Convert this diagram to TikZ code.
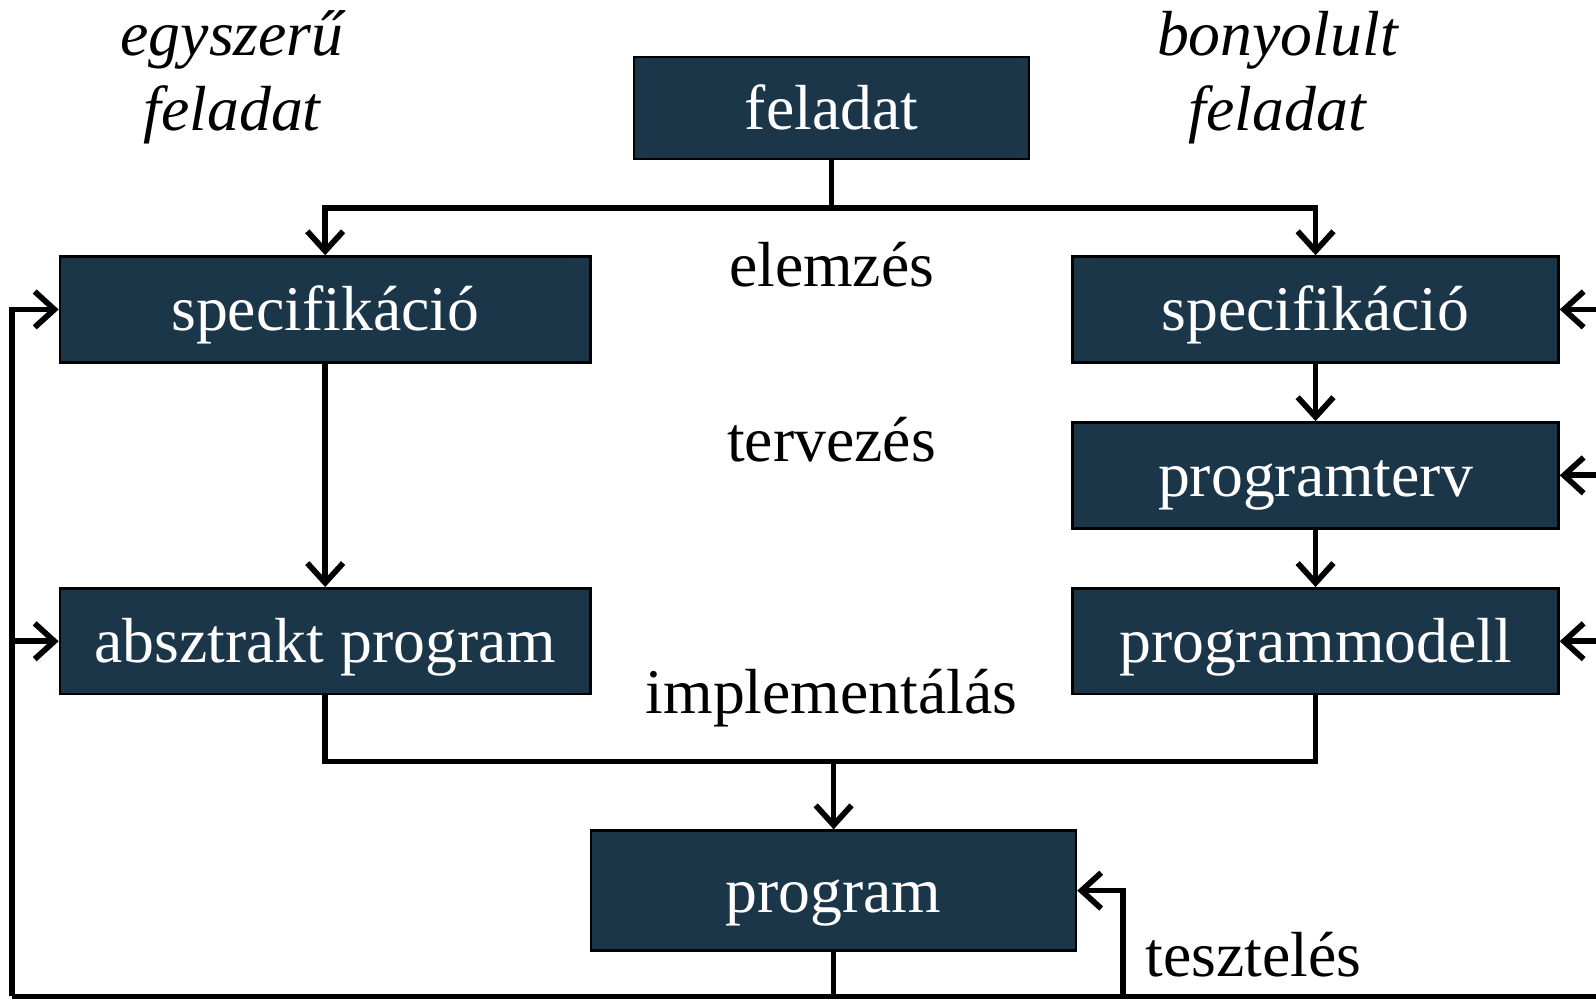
\documentclass[tikz,border=0pt]{standalone}
\usepackage{fontspec}
\setmainfont{Liberation Serif}
\usetikzlibrary{arrows.meta}
\definecolor{boxfill}{HTML}{1B3549}
\begin{document}
\begin{tikzpicture}[x=0.01cm,y=-0.01cm,
  box/.style={draw=black, line width=0.7pt, fill=boxfill, text=white,
    font=\fontsize{17.8}{21}\selectfont, inner sep=0pt, anchor=center,
    text height=15pt, text depth=3pt},
  lbl/.style={font=\fontsize{17.8}{21}\selectfont, inner sep=0pt},
  conn/.style={line width=1.6pt},
  arr/.style={conn, -{Straight Barb[length=5.5pt,width=10pt,line width=1.6pt]}}]
\useasboundingbox (0,0) rectangle (1568,981);
% boxes
\node[box, minimum width=3.88cm, minimum height=1.0cm] (fel) at (817,106) {feladat};
\node[box, minimum width=5.21cm, minimum height=1.04cm] (specL) at (319.5,304) {specifikáció};
\node[box, minimum width=5.21cm, minimum height=1.04cm] (abs) at (319.5,630) {absztrakt program};
\node[box, minimum width=4.77cm, minimum height=1.04cm] (specR) at (1292.5,304) {specifikáció};
\node[box, minimum width=4.77cm, minimum height=1.04cm] (pterv) at (1292.5,467) {programterv};
\node[box, minimum width=4.77cm, minimum height=1.04cm] (pmod) at (1292.5,630) {programmodell};
\node[box, minimum width=4.76cm, minimum height=1.18cm] (prog) at (819,875) {program};
% labels
\node[lbl] (elem) at (817,260) {elemzés};
\node[lbl] (terv) at (817,432) {tervezés};
\node[lbl] (impl) at (817,686) {implementálás};
\node[lbl, anchor=west] (teszt) at (1125,938) {tesztelés};
\node[lbl, font=\fontsize{17.8}{21}\selectfont\itshape, align=center] (egy) at (228,76) {egyszerű\\feladat};
\node[lbl, font=\fontsize{17.8}{21}\selectfont\itshape, align=center] (bony) at (1255,76) {bonyolult\\feladat};
% coordinates
\coordinate (top) at (817,204);
\coordinate (mid) at (819,748);
\coordinate (bl) at (12,979);
\coordinate (br) at (1568,979);
\coordinate (bp) at (819,979);
\coordinate (tz) at (1103,979);
\coordinate (r1) at (1568,304);
\coordinate (r2) at (1568,467);
\coordinate (r3) at (1568,630);
% connectors
\draw[conn] (fel.south) -- (top);
\draw[arr] (top) -| (specL.north);
\draw[arr] (top) -| (specR.north);
\draw[arr] (specL) -- (abs);
\draw[arr] (specR) -- (pterv);
\draw[arr] (pterv) -- (pmod);
\draw[conn] (abs.south) |- (mid) -| (pmod.south);
\draw[arr] (mid) -- (prog.north);
\draw[conn] (prog.south) -- (bp);
\draw[conn] (br) -- (bl);
\draw[arr] (bl) |- (specL.west);
\draw[arr] (bl) |- (abs.west);
\draw[arr] (tz) |- (prog.east);
\draw[arr] (r1) -- (specR.east);
\draw[arr] (r2) -- (pterv.east);
\draw[arr] (r3) -- (pmod.east);
\end{tikzpicture}
\end{document}
